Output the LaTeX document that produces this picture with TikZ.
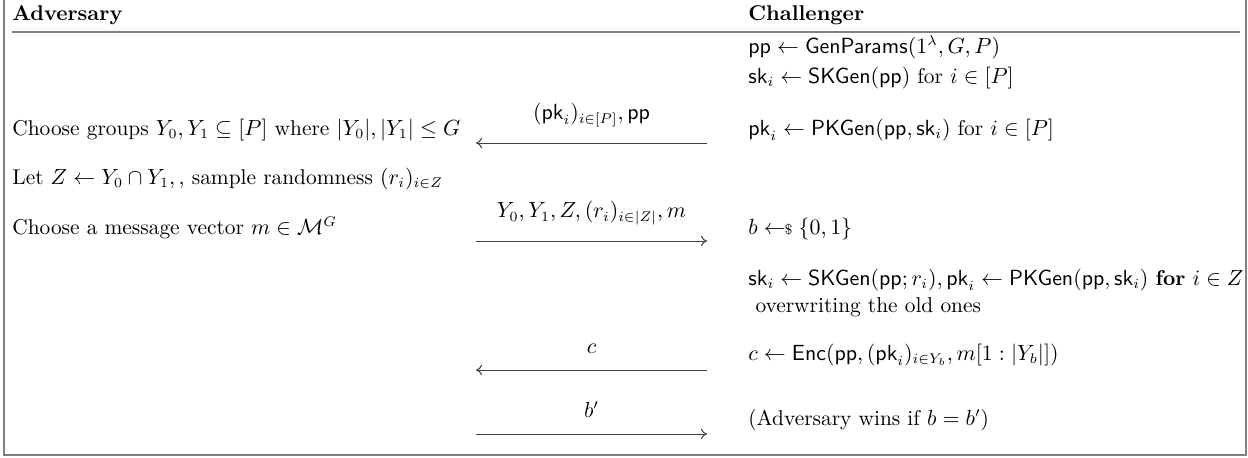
\documentclass[tikz,border=0pt]{standalone}
\usepackage{amsmath,amssymb}
\usetikzlibrary{arrows.meta}
\begin{document}
\begin{tikzpicture}[x=0.5pt,y=-0.5pt,
  txt/.style={anchor=west,inner sep=0pt,font=\fontsize{10.7}{13}\selectfont},
  frameline/.style={draw=black!50,line width=1pt},
  msg/.style={draw=black!75,line width=0.5pt},
  lbl/.style={inner sep=0pt,font=\fontsize{10.7}{13}\selectfont}]
\useasboundingbox (0,0) rectangle (1248,457);
% frame
\coordinate (tl) at (4,0);
\coordinate (bl) at (4,455);
\coordinate (br) at (1246,455);
\coordinate (tr) at (1246,0);
\draw[frameline] (tl) -- (bl) -- (br) -- (tr);
\coordinate (hl) at (12,32);
\coordinate (hr) at (1240,32);
\draw[frameline] (hl) -- (hr);
% headers
\node[txt] (adv) at (12,15) {\textbf{Adversary}};
\node[txt] (chal) at (748,15) {\textbf{Challenger}};
% challenger column
\node[txt] (c1) at (748,47) {$\mathsf{pp}\leftarrow\mathsf{GenParams}(1^\lambda,G,P)$};
\node[txt] (c2) at (748,78) {$\mathsf{sk}_i\leftarrow\mathsf{SKGen}(\mathsf{pp})$ for $i\in[P]$};
\node[txt] (c3) at (748,130) {$\mathsf{pk}_i\leftarrow\mathsf{PKGen}(\mathsf{pp},\mathsf{sk}_i)$ for $i\in[P]$};
\node[txt] (c4) at (748,229) {$b\mathrel{\leftarrow\!\!{\scriptstyle\$}}\{0,1\}$};
\node[txt] (c5) at (748,280) {$\mathsf{sk}_i\leftarrow\mathsf{SKGen}(\mathsf{pp};r_i),\mathsf{pk}_i\leftarrow\mathsf{PKGen}(\mathsf{pp},\mathsf{sk}_i)$ \textbf{for} $i\in Z$};
\node[txt] (c6) at (748,307) {\ overwriting the old ones};
\node[txt] (c7) at (748,355) {$c\leftarrow\mathsf{Enc}(\mathsf{pp},(\mathsf{pk}_i)_{i\in Y_b},m[1:|Y_b|])$};
\node[txt] (c8) at (748,420) {(Adversary wins if $b=b'$)};
% adversary column
\node[txt] (a1) at (12,130) {Choose groups $Y_0,Y_1\subseteq[P]$ where $|Y_0|,|Y_1|\leq G$};
\node[txt] (a2) at (12,179) {Let $Z\leftarrow Y_0\cap Y_1,\,$, sample randomness $(r_i)_{i\in Z}$};
\node[txt] (a3) at (12,228) {Choose a message vector $m\in\mathcal{M}^G$};
% messages
\coordinate (m1l) at (476,143); \coordinate (m1r) at (707,143);
\coordinate (m2l) at (476,241); \coordinate (m2r) at (707,241);
\coordinate (m3l) at (476,370); \coordinate (m3r) at (707,370);
\coordinate (m4l) at (476,434); \coordinate (m4r) at (707,434);
\draw[msg,{To[length=3pt,width=5pt]}-] (m1l) -- node[lbl,above=8pt] (l1) {$(\mathsf{pk}_i)_{i\in[P]},\mathsf{pp}$} (m1r);
\draw[msg,-{To[length=3pt,width=5pt]}] (m2l) -- node[lbl,above=8pt] (l2) {$Y_0,Y_1,Z,(r_i)_{i\in|Z|},m$} (m2r);
\draw[msg,{To[length=3pt,width=5pt]}-] (m3l) -- node[lbl,above=8pt] (l3) {$c$} (m3r);
\draw[msg,-{To[length=3pt,width=5pt]}] (m4l) -- node[lbl,above=8pt] (l4) {$b'$} (m4r);
\end{tikzpicture}
\end{document}
